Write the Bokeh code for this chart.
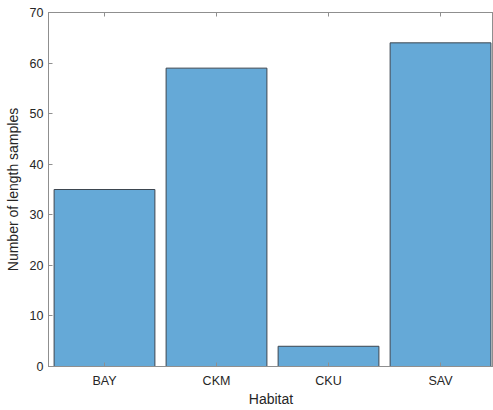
from bokeh.plotting import figure
from bokeh.models import Range1d, FixedTicker, LinearAxis
from bokeh.embed import file_html
from bokeh.resources import INLINE

habitats = ["BAY", "CKM", "CKU", "SAV"]
counts = [35, 59, 4, 64]
y_ticks = [0, 10, 20, 30, 40, 50, 60, 70]
positions = list(range(1, len(habitats) + 1))

AX = "#8f8f8f"
TXT = "#262626"
FONT = "Liberation Sans"

p = figure(width=493, height=409, output_backend="svg", toolbar_location=None,
           x_range=Range1d(0.5, 4.473), y_range=Range1d(0, 70),
           min_border_left=48, min_border_right=0, min_border_top=12, min_border_bottom=0)
p.background_fill_color = "white"
p.border_fill_color = "white"
p.outline_line_color = AX
p.outline_line_width = 1
p.xgrid.visible = False
p.ygrid.visible = False

p.vbar(x=positions, top=counts, bottom=0, width=0.9,
       fill_color="#65A9D7", line_color="#3d4650", line_width=1)

for ax in (p.xaxis[0], p.yaxis[0]):
    ax.axis_line_color = AX
    ax.major_tick_line_color = AX
    ax.major_tick_in = 4
    ax.major_tick_out = 0
    ax.minor_tick_line_color = None
    ax.major_label_text_font = FONT
    ax.major_label_text_font_size = "12.5px"
    ax.major_label_text_color = TXT
    ax.axis_label_text_font = FONT
    ax.axis_label_text_font_size = "14px"
    ax.axis_label_text_font_style = "normal"
    ax.axis_label_text_color = TXT

p.xaxis.ticker = FixedTicker(ticks=positions)
p.xaxis.major_label_overrides = {x: h for x, h in zip(positions, habitats)}
p.xaxis.axis_label = "Habitat"
p.xaxis.major_label_standoff = 7
p.xaxis.axis_label_standoff = 0

p.yaxis.ticker = FixedTicker(ticks=y_ticks)
p.yaxis.axis_label = "Number of length samples"
p.yaxis.major_label_standoff = 5
p.yaxis.axis_label_standoff = 6

top = LinearAxis(ticker=FixedTicker(ticks=positions))
top.axis_line_color = AX
top.major_tick_line_color = AX
top.major_tick_in = 4
top.major_tick_out = 0
top.minor_tick_line_color = None
top.major_label_text_font_size = "10px"
top.major_label_text_color = None
top.major_label_standoff = 0
p.add_layout(top, "above")

open("out.html", "w").write(file_html(p, INLINE))
